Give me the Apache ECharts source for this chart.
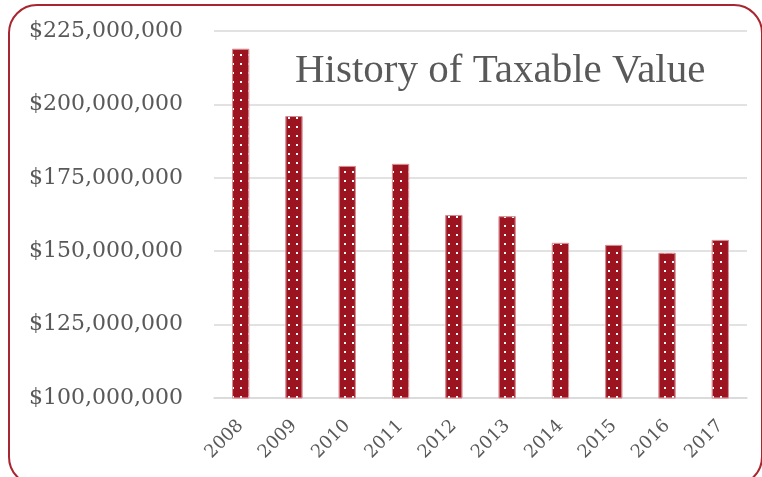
<!DOCTYPE html>
<html><head><meta charset="utf-8">
<script src="https://cdn.jsdelivr.net/npm/echarts@6/dist/echarts.min.js"></script>
<style>html,body{margin:0;padding:0;background:#fff}#c{width:762px;height:477px}</style>
</head><body><div id="c"></div>
<script>
const years = ['2008','2009','2010','2011','2012','2013','2014','2015','2016','2017'];
const taxableValue = [218900000,196000000,179000000,179700000,162300000,161900000,152800000,152100000,149400000,153800000];
const yTicks = [100000000,125000000,150000000,175000000,200000000,225000000];
const titleText = 'History of Taxable Value';

const chart = echarts.init(document.getElementById('c'));
const fmt = v => '$' + v.toLocaleString('en-US');
chart.setOption({
  animation:false,
  backgroundColor:'#fff',
  title:{text:titleText,left:290,top:46,textStyle:{fontFamily:'Liberation Serif',fontSize:41,fontWeight:'normal',color:'#595959'}},
  graphic:[{type:'rect',shape:{x:9,y:5,width:753,height:480,r:28},style:{fill:'none',stroke:'#a8262f',lineWidth:2},z:-1}],
  grid:{left:214,right:15,top:31,bottom:79,containLabel:false},
  xAxis:{type:'category',data:years,
    axisLine:{lineStyle:{color:'#d9d9d9',width:1.5}},axisTick:{show:false},
    axisLabel:{rotate:45,fontFamily:'DejaVu Serif',fontSize:18,color:'#595959',margin:25}},
  yAxis:{type:'value',min:yTicks[0],max:yTicks[yTicks.length-1],interval:25000000,
    axisLine:{show:false},axisTick:{show:false},
    splitLine:{lineStyle:{color:'#d9d9d9',width:1.5}},
    axisLabel:{formatter:fmt,fontFamily:'DejaVu Serif',fontSize:22,color:'#595959',margin:31}},
  series:[{type:'bar',data:taxableValue,barWidth:17,
    itemStyle:{color:'#9b1420',borderColor:'#d68a90',borderWidth:0.8,
      decal:{symbol:'rect',symbolSize:1,color:'#ffffff',dashArrayX:[2,6],dashArrayY:[2,7],rotation:0}}}]
});
</script></body></html>
